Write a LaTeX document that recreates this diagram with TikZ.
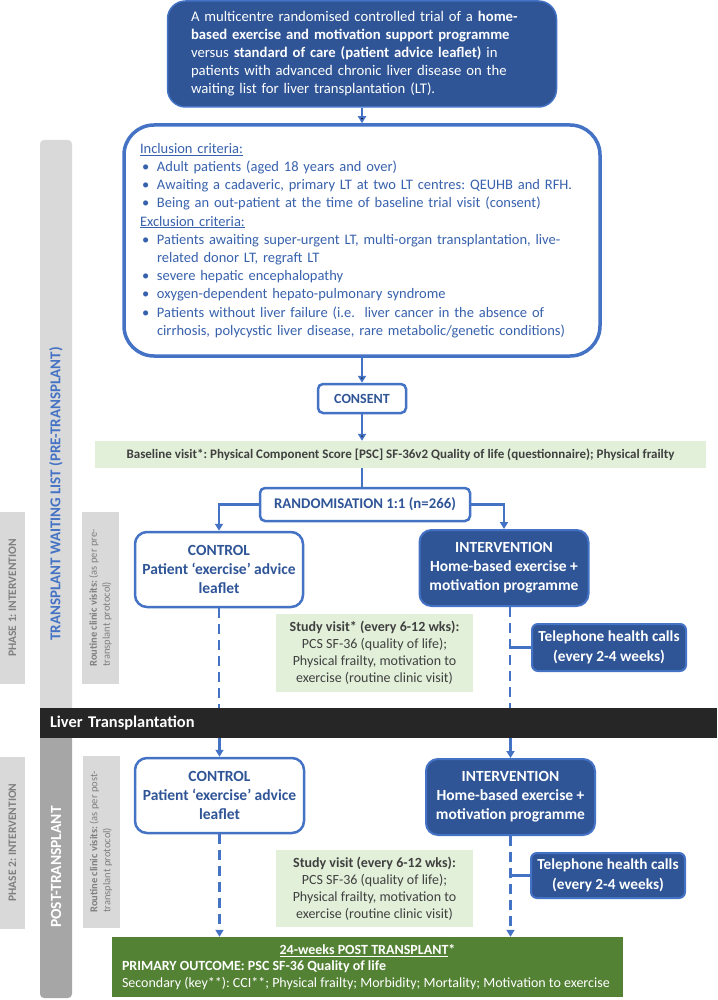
\documentclass[tikz,border=0pt]{standalone}
\usepackage{fontspec}
\setmainfont{Carlito}
\usetikzlibrary{arrows.meta, positioning}

\definecolor{navy}{HTML}{2F5597}
\definecolor{midblue}{HTML}{4472C4}
\definecolor{critblue}{HTML}{3862AD}
\definecolor{palegreen}{HTML}{E2F0D9}
\definecolor{leafgreen}{HTML}{548235}
\definecolor{lightgrey}{HTML}{D9D9D9}
\definecolor{midgrey}{HTML}{A6A6A6}
\definecolor{labelgrey}{HTML}{7F7F7F}
\definecolor{inkgrey}{HTML}{404040}
\definecolor{barblack}{HTML}{262626}

\newcommand{\incbullet}{\makebox[17pt][l]{\hspace{2pt}\textbullet}}
\frenchspacing

\begin{document}
\begin{tikzpicture}[x=1pt, y=-1pt, >={Triangle[length=7pt,width=8pt]}, inner sep=0pt]
		\tikzstyle{darkbox} = [draw=midblue, fill=navy, text=white, line width=2pt, rounded corners=12pt, align=center, font=\bfseries\fontsize{15.5}{19}\selectfont]
		\tikzstyle{linebox} = [draw=midblue, fill=white, text=navy, line width=2.5pt, rounded corners=12pt, align=center, font=\bfseries\fontsize{15.5}{19}\selectfont]
		\tikzstyle{visit} = [fill=palegreen, text=inkgrey, align=center, minimum width=197pt, font=\fontsize{14}{17}\selectfont]
		\tikzstyle{phase} = [fill=lightgrey, rotate=90, text=labelgrey, minimum width=172pt, minimum height=25pt, font=\bfseries\fontsize{11.5}{13}\selectfont]
		\tikzstyle{routine} = [fill=lightgrey, rotate=90, text=labelgrey, minimum width=172pt, minimum height=37pt, align=left, font=\fontsize{10.5}{13}\selectfont]
		\tikzstyle{link} = [draw=midblue, line width=2.5pt]
		\tikzstyle{dashlink} = [link, dash pattern=on 10pt off 6pt]
		
		\useasboundingbox (0,0) rectangle (717,1000);
		
		% side bands
		\node[fill=lightgrey, rounded corners=4pt, minimum width=32pt, minimum height=572pt] (waitbar) at (56,426) {};
		\node[fill=midgrey, rounded corners=4pt, minimum width=32pt, minimum height=264pt] (postbar) at (56,866) {};
		\node[rotate=90, text=midblue, font=\bfseries\fontsize{15}{17}\selectfont] (waitlbl) at (56,494) {TRANSPLANT WAITING LIST (PRE-TRANSPLANT)};
		\node[rotate=90, text=white, font=\bfseries\fontsize{15.5}{17}\selectfont] (postlbl) at (56,867) {POST-TRANSPLANT};
		\node[phase] (ph1) at (12.5,598) {PHASE 1: INTERVENTION};
		\node[phase] (ph2) at (12.5,842.5) {PHASE 2: INTERVENTION};
		\node[routine] (rout1) at (100.5,598) {\textbf{Routine clinic visits:} (as per pre-\\transplant protocol)};
		\node[routine] (rout2) at (101,842) {\textbf{Routine clinic visits:} (as per post-\\transplant protocol)};
		
		% pre-transplant
		\node[darkbox, line width=1.5pt, rounded corners=18pt, minimum width=389pt, minimum height=106pt, text width=342pt, align=left, font=\fontsize{14.7}{18}\selectfont] (trial) at (362,54) {A multicentre randomised controlled trial of a \textbf{home-}\\\textbf{based exercise and motivation support programme}\\versus \textbf{standard of care (patient advice leaflet)} in\\patients with advanced chronic liver disease on the\\waiting list for liver transplantation (LT).};
		\node[linebox, line width=3.5pt, rounded corners=30pt, minimum width=476pt, minimum height=231pt, text width=444pt, align=left, text=critblue, font=\fontsize{14.5}{18.2}\selectfont] (incl) at (362,240.5) {\underline{Inclusion criteria:}\\
			\incbullet Adult patients (aged 18 years and over)\\
			\incbullet Awaiting a cadaveric, primary LT at two LT centres: QEUHB and RFH.\\
			\incbullet Being an out-patient at the time of baseline trial visit (consent)\\
			\underline{Exclusion criteria:}\\
			\incbullet Patients awaiting super-urgent LT, multi-organ transplantation, live-\\
			\hspace*{17pt}related donor LT, regraft LT\\
			\incbullet severe hepatic encephalopathy\\
			\incbullet oxygen-dependent hepato-pulmonary syndrome\\
			\incbullet Patients without liver failure (i.e.\ \ liver cancer in the absence of\\
			\hspace*{17pt}cirrhosis, polycystic liver disease, rare metabolic/genetic conditions)};
		\node[linebox, rounded corners=5pt, minimum width=88pt, minimum height=29pt, font=\bfseries\fontsize{14}{16}\selectfont] (consent) at (362,398.5) {CONSENT};
		\node[fill=palegreen, text=inkgrey, minimum width=611pt, minimum height=27pt, font=\bfseries\fontsize{13}{15}\selectfont] (base) at (400.5,454.5) {Baseline visit*: Physical Component Score [PSC] SF-36v2 Quality of life (questionnaire); Physical frailty};
		\node[linebox, rounded corners=5pt, minimum width=210pt, minimum height=33pt, font=\bfseries\fontsize{14.8}{16}\selectfont] (rand) at (365,504.5) {RANDOMISATION 1:1 (n=266)};
		\node[linebox, minimum width=168pt, minimum height=75pt] (ctrl1) at (219,569.5) {CONTROL\\Patient ‘exercise’ advice\\leaflet};
		\node[darkbox, minimum width=169pt, minimum height=76pt] (int1) at (504,568) {INTERVENTION\\Home-based exercise +\\motivation programme};
		\coordinate (intdrop) at ([xshift=6pt]int1.south);
		\node[visit, minimum height=78pt] (study1) at (374.5,653) {\textbf{Study visit* (every 6-12 wks):}\\PCS SF-36 (quality of life);\\Physical frailty, motivation to\\exercise (routine clinic visit)};
		\node[darkbox, rounded corners=6pt, minimum width=154pt, minimum height=47pt, font=\bfseries\fontsize{15.3}{20}\selectfont] (tel1) at (609,647.5) {Telephone health calls\\(every 2-4 weeks)};
		
		\node[fill=barblack, text=white, minimum height=30pt, text width=657pt, inner xsep=10pt, align=left, font=\bfseries\fontsize{16.4}{18}\selectfont] (lt) at (378.5,723) {Liver Transplantation};
		
		% post-transplant
		\node[linebox, minimum width=169pt, minimum height=75pt] (ctrl2) at (219.5,795.5) {CONTROL\\Patient ‘exercise’ advice\\leaflet};
		\node[darkbox, minimum width=169pt, minimum height=76pt] (int2) at (510.5,797) {INTERVENTION\\Home-based exercise +\\motivation programme};
		\node[visit, minimum height=77pt] (study2) at (374.5,888.5) {\textbf{Study visit (every 6-12 wks):}\\PCS SF-36 (quality of life);\\Physical frailty, motivation to\\exercise (routine clinic visit)};
		\node[darkbox, rounded corners=6pt, minimum width=154pt, minimum height=45pt, font=\bfseries\fontsize{15.3}{20}\selectfont] (tel2) at (608,875.5) {Telephone health calls\\(every 2-4 weeks)};
		\node[fill=leafgreen, text=white, minimum width=511pt, minimum height=60pt, align=center, font=\fontsize{14}{16.5}\selectfont] (outc) at (367.5,967) {\textbf{\underline{24-weeks POST TRANSPLANT}*}\\
			\makebox[491pt][l]{\textbf{PRIMARY OUTCOME: PSC SF-36 Quality of life}}\\
			\makebox[491pt][l]{Secondary (key**): CCI**; Physical frailty; Morbidity; Mortality; Motivation to exercise}};
		
		\path[link, ->]
		(trial)	edge	(incl)
		(incl)	edge	(consent)
		(consent)	edge	(base.north -| consent);
		\path[link]
		(base.south -| consent)	edge	(rand.north -| consent);
		\draw[link, ->] (rand.west) -| (ctrl1.north);
		\draw[link, ->] (rand.east) -| (int1.north);
		
		\draw[dashlink] (ctrl1.south) -- (ctrl1.south |- lt.north);
		\draw[dashlink] (intdrop) -- (intdrop |- lt.north);
		\draw[link] (tel1.west) -- (tel1.west -| intdrop);
		\draw[link] (tel2.west) -- (tel2.west -| int2.south);
		
		\draw[link, ->] (lt.south -| ctrl2.north) -- (ctrl2.north);
		\draw[link, ->] (lt.south -| int2.north) -- (int2.north);
		\draw[dashlink, ->] (ctrl2.south) -- (ctrl2.south |- outc.north);
		\draw[dashlink, ->] (int2.south) -- (int2.south |- outc.north);
\end{tikzpicture}
\end{document}
